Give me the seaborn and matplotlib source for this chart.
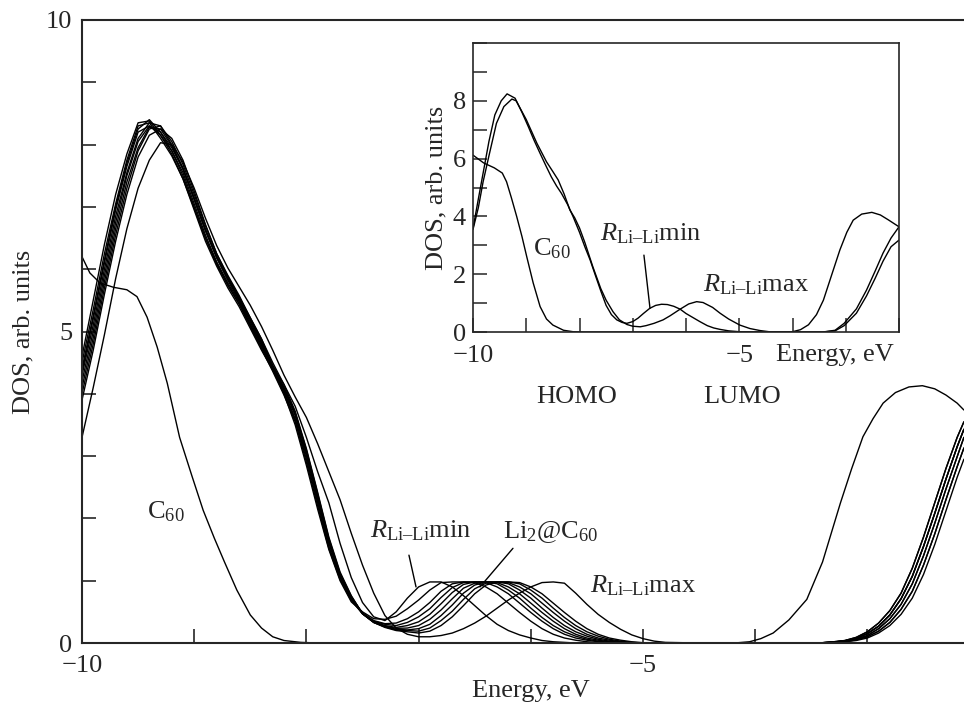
import matplotlib
matplotlib.use("Agg")
import matplotlib.pyplot as plt
import seaborn as sns

# ---------------- data ----------------
# common energy grid for the Li2@C60 curves of the main panel
energy_grid = [-10.0, -9.9, -9.8, -9.7, -9.6, -9.5, -9.4, -9.3, -9.2, -9.1,
               -9.0, -8.9, -8.8, -8.7, -8.6, -8.5, -8.4, -8.3, -8.2, -8.1,
               -8.0, -7.9, -7.8, -7.7, -7.6, -7.5, -7.4, -7.3, -7.2, -7.1,
               -7.0, -6.9, -6.8, -6.7, -6.6, -6.5, -6.4, -6.3, -6.2, -6.1,
               -6.0, -5.9, -5.8, -5.7, -5.6, -5.5, -5.4, -5.3, -5.2, -5.1,
               -5.0, -4.9, -4.8, -4.5, -4.0, -3.6, -3.4, -3.3, -3.2, -3.1,
               -3.0, -2.9, -2.8, -2.7, -2.6, -2.5, -2.4, -2.3, -2.2, -2.14]

# LUMO edge shapes (E = -4.5 ... -2.14)
lumo_a = [0, 0, 0, 0.005, 0.02, 0.04, 0.09, 0.18, 0.32, 0.52, 0.8, 1.2, 1.7, 2.25, 2.8, 3.3, 3.55]
lumo_b = [0, 0, 0, 0.004, 0.015, 0.035, 0.075, 0.15, 0.27, 0.45, 0.71, 1.07, 1.55, 2.08, 2.63, 3.15, 3.43]
lumo_c = [0, 0, 0, 0.002, 0.01, 0.03, 0.06, 0.12, 0.23, 0.39, 0.62, 0.95, 1.4, 1.92, 2.47, 2.99, 3.3]
lumo_d = [0, 0, 0, 0, 0.008, 0.025, 0.05, 0.1, 0.19, 0.33, 0.54, 0.83, 1.25, 1.75, 2.3, 2.83, 3.13]
lumo_e = [0, 0, 0, 0, 0.005, 0.02, 0.04, 0.08, 0.16, 0.28, 0.46, 0.72, 1.1, 1.58, 2.12, 2.66, 2.95]

dos_c1 = ([4.6, 5.5, 6.4, 7.2, 7.85, 8.35, 8.38, 8.15, 7.85, 7.45, 6.95, 6.45, 6.05, 5.7, 5.4,
           5.05, 4.7, 4.38, 4.0, 3.5, 2.85, 2.15, 1.5, 1.0, 0.66]
          + [.50, .39, .38, .43, .55, .69, .85, .97, .98, .98, .97, .90, .79, .64, .49, .35, .23,
             .14, .08, .045, .02, .005, 0, 0, 0, 0, 0, 0] + lumo_a)
dos_c2 = ([4.4, 5.25, 6.15, 7.0, 7.7, 8.25, 8.4, 8.2, 7.9, 7.5, 7.0, 6.5, 6.1, 5.75, 5.45,
           5.1, 4.75, 4.4, 4.05, 3.6, 3.0, 2.3, 1.6, 1.08, 0.72]
          + [.48, .36, .31, .32, .39, .50, .65, .83, .95, .98, .98, .97, .90, .79, .64, .49, .35,
             .23, .14, .08, .045, .02, .005, 0, 0, 0, 0, 0] + lumo_b)
dos_c3 = ([4.3, 5.1, 6.0, 6.85, 7.55, 8.1, 8.35, 8.3, 8.0, 7.62, 7.12, 6.62, 6.18, 5.82, 5.5,
           5.15, 4.8, 4.42, 4.08, 3.65, 3.05, 2.35, 1.65, 1.1, 0.74]
          + [.48, .35, .30, .28, .33, .42, .55, .73, .89, .97, .98, .98, .95, .85, .72, .56, .41,
             .28, .18, .11, .06, .03, .01, 0, 0, 0, 0, 0] + lumo_c)
dos_c4 = ([4.1, 4.9, 5.8, 6.65, 7.4, 7.95, 8.28, 8.25, 7.98, 7.62, 7.15, 6.65, 6.2, 5.85, 5.52,
           5.18, 4.82, 4.45, 4.1, 3.7, 3.1, 2.4, 1.68, 1.12, 0.75]
          + [.47, .34, .28, .25, .28, .34, .46, .63, .81, .94, .98, .98, .97, .90, .79, .64, .49,
             .35, .23, .14, .08, .045, .02, .005, 0, 0, 0, 0] + lumo_b)
dos_c5 = ([4.0, 4.8, 5.7, 6.55, 7.3, 7.9, 8.25, 8.3, 8.05, 7.68, 7.2, 6.7, 6.25, 5.88, 5.55,
           5.2, 4.85, 4.45, 4.1, 3.68, 3.05, 2.32, 1.62, 1.08, 0.72]
          + [.47, .34, .27, .235, .24, .28, .38, .53, .71, .88, .96, .98, .98, .95, .85, .72, .56,
             .41, .28, .18, .11, .06, .03, .01, 0, 0, 0, 0] + lumo_d)
dos_c6 = ([4.35, 5.2, 6.1, 6.95, 7.65, 8.2, 8.3, 8.15, 7.9, 7.55, 7.05, 6.55, 6.12, 5.78, 5.48,
           5.12, 4.78, 4.4, 4.02, 3.58, 2.95, 2.25, 1.55, 1.05, 0.7]
          + [.47, .33, .26, .22, .21, .23, .30, .44, .61, .80, .93, .98, .98, .97, .90, .79, .64,
             .49, .35, .23, .14, .08, .045, .02, .005, 0, 0, 0] + lumo_c)
dos_c7 = ([3.9, 4.7, 5.6, 6.45, 7.2, 7.8, 8.15, 8.25, 8.1, 7.75, 7.25, 6.72, 6.25, 5.9, 5.58,
           5.22, 4.88, 4.5, 4.15, 3.72, 3.12, 2.42, 1.7, 1.14, 0.76]
          + [.47, .33, .26, .21, .20, .19, .24, .36, .51, .70, .87, .96, .98, .98, .95, .85, .72,
             .56, .41, .28, .18, .11, .06, .03, .01, 0, 0, 0] + lumo_e)
dos_c8 = ([4.5, 5.35, 6.25, 7.05, 7.75, 8.3, 8.35, 8.1, 7.82, 7.45, 6.98, 6.5, 6.08, 5.74, 5.44,
           5.08, 4.72, 4.36, 3.98, 3.55, 2.9, 2.2, 1.52, 1.02, 0.68]
          + [.47, .33, .25, .20, .18, .16, .19, .28, .42, .60, .79, .93, .98, .98, .97, .90, .79,
             .64, .49, .35, .23, .14, .08, .045, .02, .005, 0, 0] + lumo_a)
dos_rmin = ([4.2, 5.0, 5.9, 6.75, 7.5, 8.05, 8.3, 8.2, 7.95, 7.6, 7.12, 6.62, 6.2, 5.85, 5.55,
             5.22, 4.88, 4.45, 4.15, 3.8, 3.3, 2.75, 2.25, 1.6, 1.05]
            + [.65, .42, .36, .50, .72, .90, .98, .98, .90, .76, .60, .44, .30, .20, .13, .08, .04,
               .02, .01, 0, 0, 0, 0, 0, 0, 0, 0, 0] + lumo_b)
dos_rmax = ([3.3, 4.1, 4.95, 5.85, 6.65, 7.3, 7.75, 8.03, 8.0, 7.72, 7.3, 6.82, 6.38, 6.02, 5.72,
             5.42, 5.08, 4.7, 4.3, 3.95, 3.62, 3.2, 2.75, 2.3, 1.76]
            + [1.25, .80, .44, .24, .14, .10, .10, .12, .16, .23, .32, .43, .56, .69, .80, .90, .97,
               .98, .96, .80, .62, .46, .33, .22, .13, .07, .03, .01] + lumo_d)

li2_curves = [dos_c1, dos_c2, dos_c3, dos_c4, dos_c5, dos_c6, dos_c7, dos_c8, dos_rmin, dos_rmax]

# pure C60 (main panel)
c60_energy = [-10.0, -9.93, -9.84, -9.72, -9.6, -9.51, -9.42, -9.33, -9.24, -9.13,
              -9.02, -8.92, -8.82, -8.73, -8.62, -8.5, -8.4, -8.3, -8.2, -8.05,
              -7.9, -4.3, -4.15, -4.05, -3.95, -3.84, -3.7, -3.54, -3.4, -3.24,
              -3.14, -3.04, -2.95, -2.86, -2.75, -2.63, -2.51, -2.4, -2.3, -2.2, -2.14]
c60_dos = [6.2, 5.94, 5.78, 5.71, 5.67, 5.56, 5.23, 4.75, 4.17, 3.3,
           2.68, 2.13, 1.68, 1.3, 0.85, 0.45, 0.24, 0.1, 0.04, 0.01,
           0.0, 0.0, 0.005, 0.02, 0.07, 0.16, 0.37, 0.7, 1.3, 2.25,
           2.8, 3.31, 3.6, 3.85, 4.02, 4.11, 4.13, 4.08, 3.98, 3.85, 3.74]

# inset curves
in_c60_energy = [-10.0, -9.8, -9.6, -9.45, -9.37, -9.28, -9.18, -9.08, -8.99, -8.87,
                 -8.74, -8.62, -8.5, -8.3, -8.12, -7.9, -4.2, -4.0, -3.85, -3.7,
                 -3.55, -3.42, -3.26, -3.11, -2.98, -2.86, -2.7, -2.51, -2.35, -2.2, -2.0]
in_c60_dos = [6.12, 5.85, 5.68, 5.5, 5.2, 4.65, 4.0, 3.3, 2.6, 1.7,
              0.88, 0.45, 0.24, 0.06, 0.01, 0.0, 0.0, 0.01, 0.08, 0.25,
              0.6, 1.1, 2.0, 2.84, 3.45, 3.87, 4.08, 4.14, 4.05, 3.88, 3.64]
in_rmin_energy = [-10, -9.9, -9.8, -9.7, -9.59, -9.47, -9.36, -9.21, -9.08, -8.96,
                  -8.85, -8.74, -8.63, -8.53, -8.43, -8.34, -8.22, -8.12, -8.0, -7.9,
                  -7.8, -7.7, -7.6, -7.5, -7.4, -7.3, -7.2, -7.11, -7.0, -6.9,
                  -6.8, -6.68, -6.57, -6.46, -6.35, -6.23, -6.11, -6.0, -5.87, -5.74,
                  -5.6, -5.48, -5.36, -5.2, -5.0, -4.5, -3.6, -3.43, -3.2, -3.03,
                  -2.8, -2.61, -2.45, -2.3, -2.15, -2.0]
in_rmin_dos = [3.58, 4.6, 5.6, 6.6, 7.51, 8.0, 8.24, 8.09, 7.6, 7.1,
               6.62, 6.18, 5.75, 5.37, 5.05, 4.8, 4.4, 3.99, 3.45, 2.95,
               2.49, 1.95, 1.42, 0.92, 0.6, 0.42, 0.33, 0.3, 0.36, 0.48,
               0.64, 0.82, 0.92, 0.96, 0.95, 0.89, 0.79, 0.64, 0.5, 0.36,
               0.22, 0.14, 0.09, 0.04, 0.01, 0.0, 0.0, 0.0, 0.06, 0.3,
               0.8, 1.45, 2.1, 2.73, 3.25, 3.64]
in_rmax_energy = [-10, -9.9, -9.81, -9.7, -9.56, -9.42, -9.27, -9.19, -9.0, -8.8,
                  -8.62, -8.5, -8.4, -8.29, -8.18, -8.09, -8.0, -7.9, -7.75, -7.6,
                  -7.5, -7.37, -7.25, -7.11, -7.0, -6.86, -6.75, -6.6, -6.43, -6.3,
                  -6.11, -5.95, -5.8, -5.68, -5.5, -5.36, -5.2, -4.99, -4.8, -4.61,
                  -4.4, -3.6, -3.43, -3.2, -3.03, -2.8, -2.61, -2.45, -2.3, -2.15, -2.0]
in_rmax_dos = [3.55, 4.3, 5.2, 6.1, 7.22, 7.8, 8.06, 8.0, 7.35, 6.53,
               5.89, 5.55, 5.26, 4.78, 4.22, 3.95, 3.6, 3.1, 2.26, 1.5,
               1.1, 0.7, 0.42, 0.26, 0.2, 0.18, 0.22, 0.3, 0.42, 0.56,
               0.79, 0.97, 1.05, 1.02, 0.85, 0.65, 0.45, 0.24, 0.12, 0.05,
               0.0, 0.0, 0.0, 0.04, 0.22, 0.65, 1.25, 1.85, 2.45, 2.95, 3.18]

main_xticks = [-10, -9, -8, -7, -6, -5, -4, -3]
main_xticklabels = ["\u221210", "", "", "", "", "\u22125", "", ""]
main_yticks = [0, 1, 2, 3, 4, 5, 6, 7, 8, 9, 10]
main_yticklabels = ["0", "", "", "", "", "5", "", "", "", "", "10"]
inset_xticks = [-10, -9, -8, -7, -6, -5, -4, -3, -2]
inset_xticklabels = ["\u221210", "", "", "", "", "\u22125", "", "", ""]
inset_yticks = [0, 1, 2, 3, 4, 5, 6, 7, 8, 9, 10]
inset_yticklabels = ["0", "", "2", "", "4", "", "6", "", "8", "", ""]

RMIN = "$R_{\\mathrm{Li\u2013Li}}$min"
RMAX = "$R_{\\mathrm{Li\u2013Li}}$max"

# ---------------- style ----------------
sns.set_style("ticks")
plt.rcParams["font.family"] = ["Liberation Serif", "DejaVu Serif"]
plt.rcParams["mathtext.fontset"] = "custom"
plt.rcParams["mathtext.rm"] = "Liberation Serif"
plt.rcParams["mathtext.it"] = "Liberation Serif:italic"
plt.rcParams["mathtext.bf"] = "Liberation Serif:bold"
plt.rcParams["axes.unicode_minus"] = True

FS = 19
LW = 1.0

W, H = 964, 704
fig = plt.figure(figsize=(W / 100, H / 100), dpi=100)

# main axes (right edge runs past the canvas as in the cropped original)
ax = fig.add_axes([82 / W, 1 - 643 / H, 897.6 / W, 623 / H])
for dos in li2_curves:
    sns.lineplot(x=energy_grid, y=dos, ax=ax, color="black", linewidth=LW,
                 estimator=None, sort=False, legend=False)
sns.lineplot(x=c60_energy, y=c60_dos, ax=ax, color="black", linewidth=LW,
             estimator=None, sort=False, legend=False)

ax.set_xlim(-10, -2)
ax.set_ylim(0, 10)
ax.set_xticks(main_xticks)
ax.set_xticklabels(main_xticklabels)
ax.set_yticks(main_yticks)
ax.set_yticklabels(main_yticklabels)
ax.tick_params(direction="in", length=10, width=1.2, labelsize=FS,
               top=False, right=False)
ax.tick_params(axis="x", pad=9)
ax.tick_params(axis="y", pad=7)
for s in ["left", "bottom", "top"]:
    ax.spines[s].set_linewidth(1.5)
ax.spines["right"].set_visible(False)
ax.set_xlabel("Energy, eV", fontsize=FS, labelpad=2)
ax.set_ylabel("DOS, arb. units", fontsize=FS, labelpad=8)

ax.text(-9.42, 2.0, "C$_{60}$", fontsize=FS, ha="left", va="baseline")
ax.text(-7.43, 1.69, RMIN, fontsize=FS, ha="left", va="baseline")
ax.text(-6.245, 1.68, "Li$_2$@C$_{60}$", fontsize=FS, ha="left", va="baseline")
ax.text(-5.47, 0.82, RMAX, fontsize=FS, ha="left", va="baseline")
ax.annotate("", xy=(-7.023, 0.90), xytext=(-7.086, 1.41),
            arrowprops=dict(arrowstyle="-", color="black", lw=1.0,
                            shrinkA=0, shrinkB=0))
ax.annotate("", xy=(-6.453, 0.90), xytext=(-6.159, 1.52),
            arrowprops=dict(arrowstyle="-", color="black", lw=1.0,
                            shrinkA=0, shrinkB=0))

# inset axes
ax2 = fig.add_axes([473 / W, 1 - 332 / H, 426 / W, 289 / H])
sns.lineplot(x=in_c60_energy, y=in_c60_dos, ax=ax2, color="black", linewidth=LW,
             estimator=None, sort=False, legend=False)
sns.lineplot(x=in_rmin_energy, y=in_rmin_dos, ax=ax2, color="black", linewidth=LW,
             estimator=None, sort=False, legend=False)
sns.lineplot(x=in_rmax_energy, y=in_rmax_dos, ax=ax2, color="black", linewidth=LW,
             estimator=None, sort=False, legend=False)
ax2.set_xlim(-10, -2)
ax2.set_ylim(0, 10)
ax2.set_xticks(inset_xticks)
ax2.set_xticklabels(inset_xticklabels)
ax2.set_yticks(inset_yticks)
ax2.set_yticklabels(inset_yticklabels)
ax2.tick_params(direction="in", length=10, width=1.1, labelsize=FS,
                top=False, right=False)
ax2.tick_params(axis="x", pad=9)
ax2.tick_params(axis="y", pad=5)
for s in ax2.spines.values():
    s.set_linewidth(1.2)
    s.set_visible(True)
ax2.set_xlabel("")
ax2.set_ylabel("DOS, arb. units", fontsize=FS, labelpad=4)

ax2.text(-8.873, 2.66, "C$_{60}$", fontsize=FS, ha="left", va="baseline")
ax2.text(-7.615, 3.18, RMIN, fontsize=FS, ha="left", va="baseline")
ax2.text(-5.68, 1.39, RMAX, fontsize=FS, ha="left", va="baseline")
ax2.annotate("", xy=(-6.676, 0.82), xytext=(-6.79, 2.66),
             arrowprops=dict(arrowstyle="-", color="black", lw=1.0,
                             shrinkA=0, shrinkB=0))

fig.text(835 / W, 1 - 355 / H, "Energy, eV", fontsize=FS, ha="center", va="center")
fig.text(577 / W, 1 - 397 / H, "HOMO", fontsize=FS, ha="center", va="center")
fig.text(742 / W, 1 - 397 / H, "LUMO", fontsize=FS, ha="center", va="center")

fig.savefig("out.png", dpi=100)
